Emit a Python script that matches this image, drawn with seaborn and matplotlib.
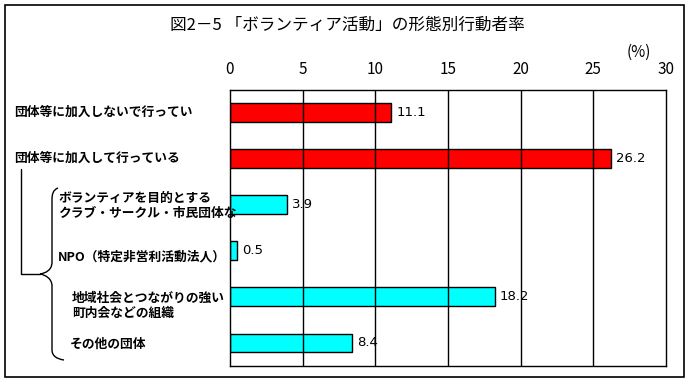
import seaborn as sns
import matplotlib.pyplot as plt
import matplotlib.transforms as mtransforms
from matplotlib.path import Path
from matplotlib.patches import PathPatch, Rectangle
import pandas as pd

# data
categories = ['団体等に加入しないで行ってい', '団体等に加入して行っている',
              'ボランティアを目的とする\nクラブ・サークル・市民団体な',
              'NPO（特定非営利活動法人）',
              '地域社会とつながりの強い\n町内会などの組織', 'その他の団体']
values = [11.1, 26.2, 3.9, 0.5, 18.2, 8.4]
bar_colors = ['#ff0000', '#ff0000', '#00ffff', '#00ffff', '#00ffff', '#00ffff']
xticks = [0, 5, 10, 15, 20, 25, 30]
title = '図2－5 「ボランティア活動」の形態別行動者率'

sns.set_style('white')
plt.rcParams['font.family'] = ['Noto Sans CJK JP', 'DejaVu Sans']
plt.rcParams['text.color'] = 'black'
plt.rcParams['xtick.color'] = 'black'

df = pd.DataFrame({'cat': categories, 'val': values})

W, H = 692, 382
fig = plt.figure(figsize=(W / 100, H / 100), dpi=100)
# pixel coords from top-left
px = mtransforms.Affine2D().scale(1 / W, -1 / H).translate(0, 1) + fig.transFigure

ax = fig.add_axes([230 / W, 1 - 366 / H, 436 / W, 276.5 / H])
sns.barplot(data=df, x='val', y='cat', hue='cat', palette=bar_colors, legend=False,
            orient='h', width=0.41, saturation=1, edgecolor='black', linewidth=1,
            ax=ax, zorder=2)

ax.set_xlim(0, 30)
ax.set_ylim(5.5, -0.5)
ax.xaxis.tick_top()
ax.set_xticks(xticks)
ax.tick_params(axis='x', length=0, pad=8, labelsize=11, labelcolor='black')
ax.set_yticks([])
ax.set_xlabel('')
ax.set_ylabel('')
for x in xticks[1:-1]:
    ax.axvline(x, color='black', lw=1, zorder=3)
for s in ax.spines.values():
    s.set_color('black')
    s.set_linewidth(1)
    s.set_zorder(4)

# value labels (sit under the grid lines like the original)
for i, v in enumerate(values):
    ax.text(v + 0.35, i, f'{v:.1f}', va='center', ha='left', fontsize=9.5,
            family='DejaVu Sans', zorder=1)

# category labels
lab = mtransforms.blended_transform_factory(fig.transFigure, ax.transData)
label_x = [14, 14, 58, 58, 72, 70]
label_dy = [0, 0, 0.02, 0.13, 0.2, 0.02]
for i, c in enumerate(categories):
    ax.text(label_x[i] / W, i + label_dy[i], c, transform=lab, ha='left', va='center',
            fontsize=9.2, fontweight='bold', linespacing=1.2, clip_on=False)

# bracket + brace
fig.add_artist(plt.Line2D([20.7, 20.7, 40], [169, 274, 274], color='black', lw=1,
                          transform=px))
verts = [(58, 188), (53, 190), (52, 194), (52, 200), (52, 262),
         (52, 270), (46, 273), (40, 274), (46, 275), (52, 279), (52, 286),
         (52, 350), (52, 356), (57, 359), (64, 360)]
codes = [Path.MOVETO, Path.CURVE4, Path.CURVE4, Path.CURVE4, Path.LINETO,
         Path.CURVE4, Path.CURVE4, Path.CURVE4, Path.CURVE4, Path.CURVE4, Path.CURVE4,
         Path.LINETO, Path.CURVE4, Path.CURVE4, Path.CURVE4]
fig.add_artist(PathPatch(Path(verts, codes), facecolor='none', edgecolor='black',
                         lw=1, transform=px))

fig.text(347 / W, 1 - 25 / H, title, ha='center', va='center', fontsize=12)
fig.text(639 / W, 1 - 52 / H, '(%)', ha='center', va='center', fontsize=11)
fig.add_artist(Rectangle((4.5, 5), 679.5, 372, transform=px, fill=False,
                         edgecolor='black', lw=1.2))

plt.savefig('out.png', dpi=100)
